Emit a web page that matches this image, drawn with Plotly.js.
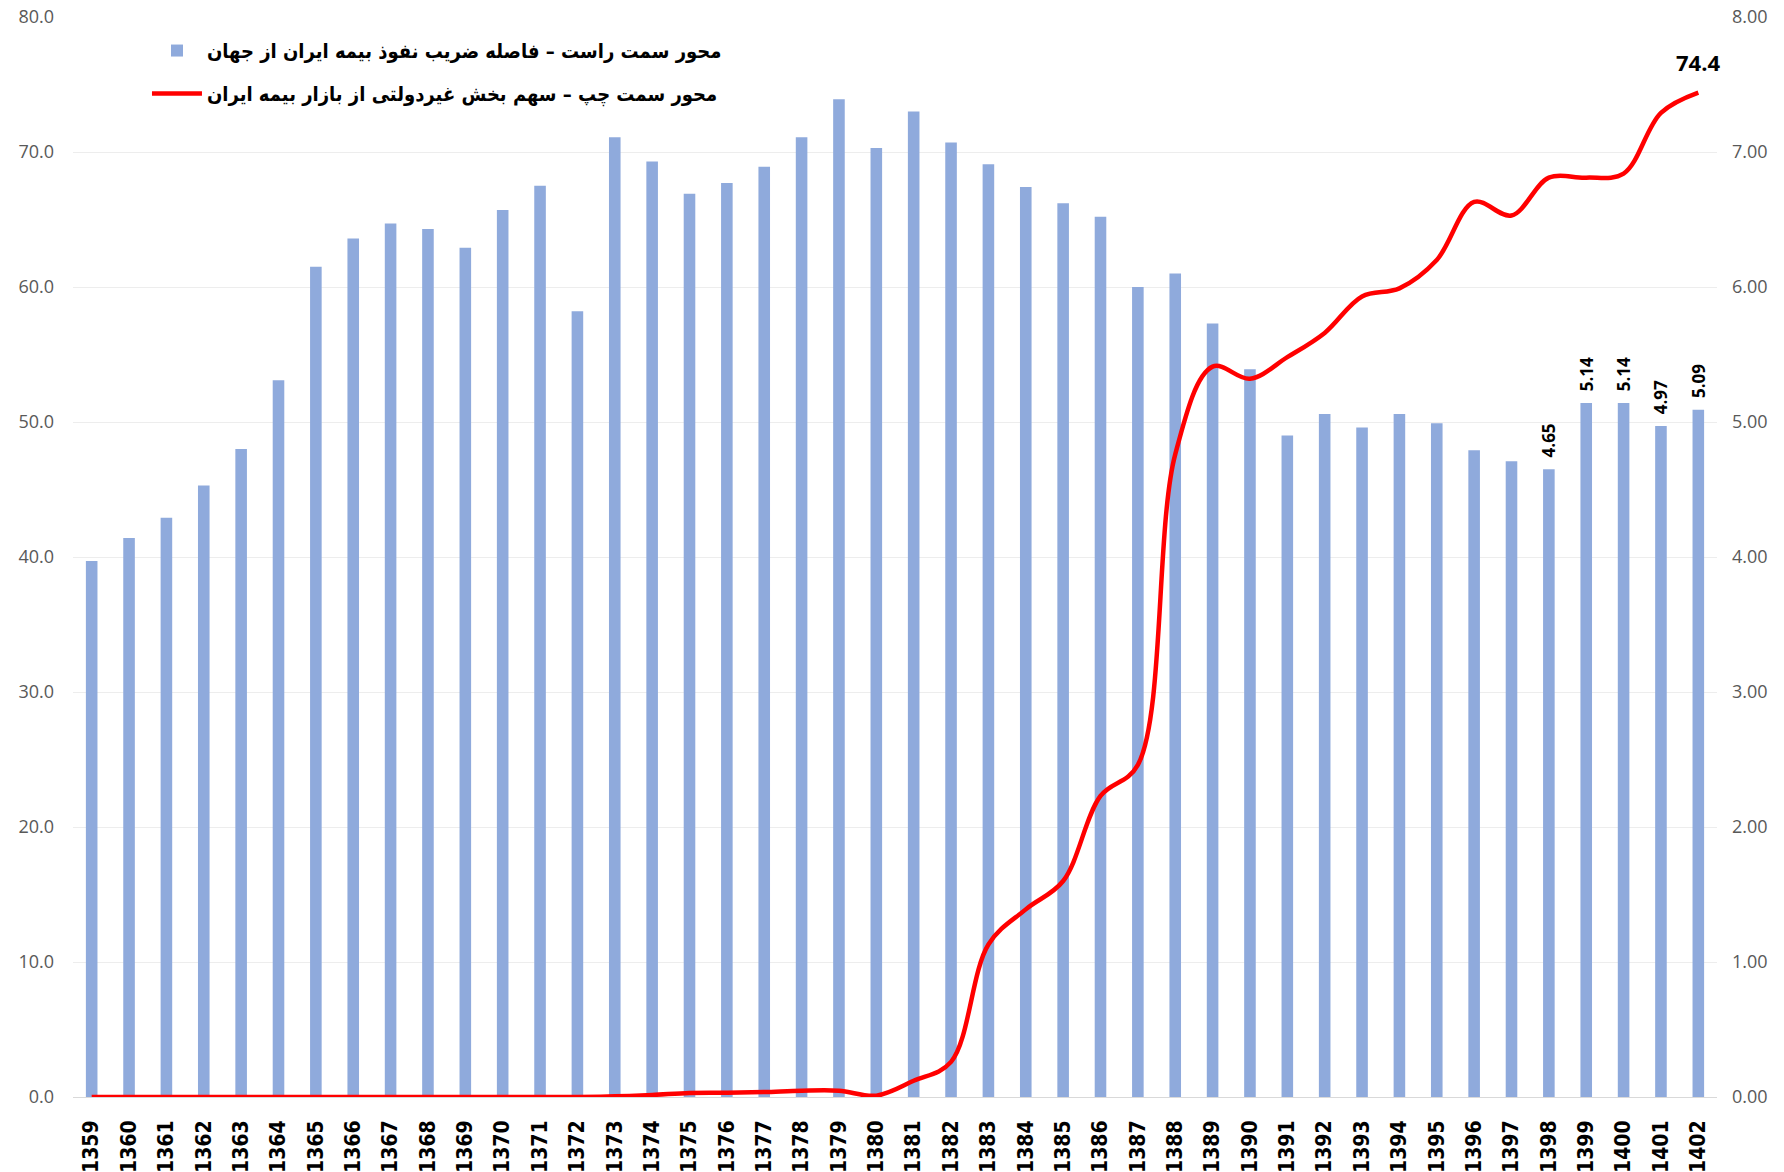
<!DOCTYPE html>
<html>
<head>
<meta charset="utf-8">
<script src="https://cdn.plot.ly/plotly-3.0.1.min.js"></script>
<style>
html,body{margin:0;padding:0;background:#fff;}
#chart{width:1784px;height:1172px;}
</style>
</head>
<body>
<div id="chart"></div>
<script>
// ---- data ----
const years = ["1359","1360","1361","1362","1363","1364","1365","1366","1367","1368","1369","1370","1371","1372","1373","1374","1375","1376","1377","1378","1379","1380","1381","1382","1383","1384","1385","1386","1387","1388","1389","1390","1391","1392","1393","1394","1395","1396","1397","1398","1399","1400","1401","1402"];
// right axis: gap of Iran's insurance penetration from the world
const penetrationGap = [3.97,4.14,4.29,4.53,4.80,5.31,6.15,6.36,6.47,6.43,6.29,6.57,6.75,5.82,7.11,6.93,6.69,6.77,6.89,7.11,7.39,7.03,7.30,7.07,6.91,6.74,6.62,6.52,6.00,6.10,5.73,5.39,4.90,5.06,4.96,5.06,4.99,4.79,4.71,4.65,5.14,5.14,4.97,5.09];
// left axis: private sector share of Iran's insurance market
const privateShare = [0,0,0,0,0,0,0,0,0,0,0,0,0,0,0.05,0.15,0.3,0.32,0.37,0.47,0.47,0.1,1.2,2.6,11.3,13.9,16.0,22.3,24.6,47.6,54.1,53.2,54.8,56.6,59.3,59.9,62.0,66.3,65.3,68.1,68.1,68.4,72.9,74.4];
const labeledBarYears = ["1398","1399","1400","1401","1402"];
const labeledLineYear = "1402";
const barName = "محور سمت راست – فاصله ضریب نفوذ بیمه ایران از جهان";
const lineName = "محور سمت چپ – سهم بخش غیردولتی از بازار بیمه ایران";

const barText = years.map((y,i)=> labeledBarYears.includes(y) ? "\u00a0\u00a0" + penetrationGap[i].toFixed(2) : "");
const lineIdx = years.indexOf(labeledLineYear);

const traces = [
  {
    type: "bar",
    x: years,
    y: penetrationGap,
    yaxis: "y",
    name: barName,
    legendgroup: "a",
    marker: {color: "#8FAADC"},
    text: barText,
    textposition: "outside",
    textangle: -90,
    constraintext: "none",
    cliponaxis: false,
    textfont: {family: "Open Sans", size: 17, color: "#000", weight: 700},
    hoverinfo: "x+y"
  },
  {
    type: "scatter",
    mode: "lines",
    x: years,
    y: privateShare,
    yaxis: "y2",
    name: lineName,
    legendgroup: "b",
    line: {color: "#FF0000", width: 4.5, shape: "spline", smoothing: 1},
    cliponaxis: false
  }
];

const layout = {
  width: 1784,
  height: 1172,
  paper_bgcolor: "#ffffff",
  plot_bgcolor: "#ffffff",
  margin: {l: 73, r: 67, t: 17, b: 75},
  bargap: 0.69,
  showlegend: true,
  legend: {
    x: 0.045, y: 0.987, xanchor: "left", yanchor: "top",
    bgcolor: "rgba(0,0,0,0)",
    font: {family: "DejaVu Sans Condensed, DejaVu Sans", size: 20, color: "#000", weight: 700},
    traceorder: "grouped",
    tracegroupgap: 14,
    itemwidth: 50
  },
  annotations: [{
    x: lineIdx,
    y: privateShare[lineIdx],
    xref: "x",
    yref: "y2",
    text: privateShare[lineIdx].toFixed(1),
    showarrow: false,
    yshift: 31,
    font: {family: "Open Sans", size: 22, color: "#000", weight: 700}
  }],
  xaxis: {
    type: "category",
    range: [-0.5, years.length - 0.5],
    showgrid: false,
    showline: true,
    linecolor: "#d9d9d9",
    linewidth: 1,
    ticks: "",
    tickangle: -90,
    ticklabelstandoff: 14,
    tickfont: {family: "DejaVu Sans Condensed", size: 21, color: "#000", weight: 700},
    zeroline: false,
    fixedrange: true
  },
  yaxis: {
    side: "right",
    range: [0, 8],
    dtick: 1,
    tick0: 0,
    tickformat: ".2f",
    showgrid: true,
    gridcolor: "#ededed",
    gridwidth: 1,
    zeroline: false,
    ticks: "",
    ticklabelstandoff: 14,
    tickfont: {family: "Open Sans", size: 18, color: "#595959"}
  },
  yaxis2: {
    side: "left",
    overlaying: "y",
    range: [0, 80],
    dtick: 10,
    tick0: 0,
    tickformat: ".1f",
    showgrid: false,
    zeroline: false,
    ticks: "",
    ticklabelstandoff: 18,
    tickfont: {family: "Open Sans", size: 18, color: "#595959"}
  }
};

Plotly.newPlot("chart", traces, layout, {displayModeBar: false, staticPlot: true});
</script>
</body>
</html>
